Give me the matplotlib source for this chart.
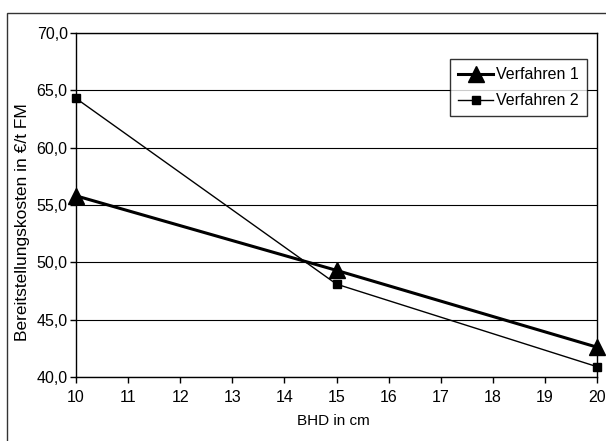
import numpy as np
import matplotlib.pyplot as plt
from matplotlib.patches import Rectangle
from matplotlib.ticker import FuncFormatter

plt.rcParams['font.family'] = ['Liberation Sans', 'DejaVu Sans']
plt.rcParams['font.size'] = 11.5

bhd = [10, 15, 20]
verfahren1 = [55.8, 49.3, 42.6]
verfahren2 = [64.3, 48.1, 40.9]

fig = plt.figure(figsize=(6.06, 4.41), dpi=100)
ax = fig.add_axes([76 / 606, 64 / 441, 521 / 606, 344 / 441])

# outer frame like the original chart area
fig.patches.append(Rectangle((7 / 606, -0.01), 1.0, 0.9705 + 0.01, transform=fig.transFigure,
                             fill=False, edgecolor='#333333', linewidth=1.0))

ax.plot(bhd, verfahren1, color='black', linewidth=2.2, marker='^', markersize=11,
        label='Verfahren 1', clip_on=False, zorder=4)
ax.plot(bhd, verfahren2, color='black', linewidth=1.0, marker='s', markersize=6,
        label='Verfahren 2', clip_on=False, zorder=4)

ax.set_xlim(10, 20)
ax.set_ylim(40, 70)
ax.set_xticks(np.arange(10, 21, 1))
ax.set_yticks(np.arange(40, 71, 5))
ax.yaxis.set_major_formatter(FuncFormatter(lambda v, p: f"{v:.1f}".replace('.', ',')))
ax.grid(axis='y', color='black', linewidth=0.8)
ax.set_axisbelow(True)
ax.tick_params(direction='out', length=4, width=1, colors='black', labelsize=11.5)
ax.tick_params(axis='x', pad=5)
ax.tick_params(axis='y', pad=2)
for s in ax.spines.values():
    s.set_linewidth(1.0)
    s.set_color('black')

ax.set_xlabel('BHD in cm', fontsize=11)
ax.xaxis.set_label_coords(0.494, -0.108)
ax.set_ylabel('Bereitstellungskosten in €/t FM', fontsize=12.5)
ax.yaxis.set_label_coords(-0.088, 0.45)

leg = ax.legend(loc='upper right', bbox_to_anchor=(0.981, 0.924), frameon=True, fancybox=False,
                edgecolor='black', handlelength=2.2, handletextpad=0.2, borderpad=0.5,
                labelspacing=0.7, borderaxespad=0, fontsize=11.5)
leg.get_frame().set_linewidth(1.0)

fig.savefig('out.png', dpi=100)
